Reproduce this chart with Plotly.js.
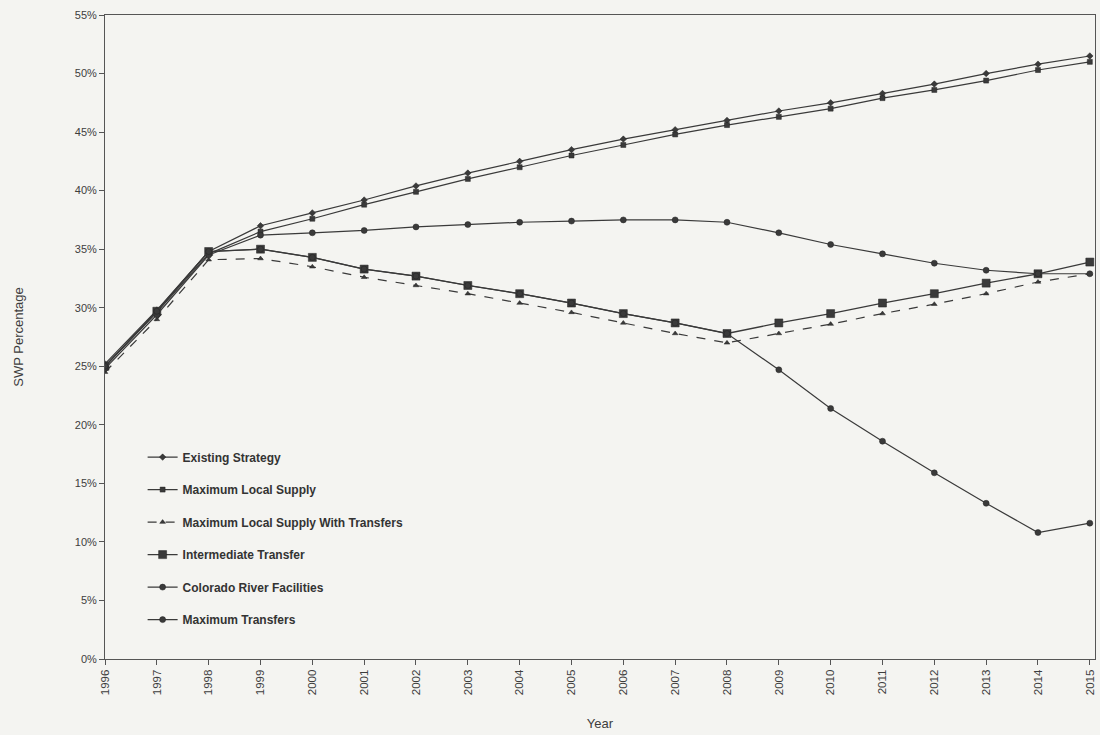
<!DOCTYPE html>
<html>
<head>
<meta charset="utf-8">
<script src="https://cdn.plot.ly/plotly-3.0.1.min.js"></script>
<style>html,body{margin:0;padding:0;background:#f4f4f1;}#chart{width:1100px;height:735px;}</style>
</head>
<body>
<div id="chart"></div>
<script>
const years = [1996,1997,1998,1999,2000,2001,2002,2003,2004,2005,2006,2007,2008,2009,2010,2011,2012,2013,2014,2015];
const existingStrategy = [25.2,29.8,34.8,37.0,38.1,39.2,40.4,41.5,42.5,43.5,44.4,45.2,46.0,46.8,47.5,48.3,49.1,50.0,50.8,51.5];
const maxLocalSupply = [25.0,29.6,34.6,36.5,37.6,38.8,39.9,41.0,42.0,43.0,43.9,44.8,45.6,46.3,47.0,47.9,48.6,49.4,50.3,51.0];
const maxLocalSupplyTransfers = [24.5,29.0,34.1,34.2,33.5,32.6,31.9,31.2,30.4,29.6,28.7,27.8,27.0,27.8,28.6,29.5,30.3,31.2,32.2,32.9];
const intermediateTransfer = [25.0,29.7,34.8,35.0,34.3,33.3,32.7,31.9,31.2,30.4,29.5,28.7,27.8,28.7,29.5,30.4,31.2,32.1,32.9,33.9];
const coloradoRiver = [24.8,29.4,34.5,36.2,36.4,36.6,36.9,37.1,37.3,37.4,37.5,37.5,37.3,36.4,35.4,34.6,33.8,33.2,32.9,32.9];
const maxTransfers = [25.0,29.7,34.8,35.0,34.3,33.3,32.7,31.9,31.2,30.4,29.5,28.7,27.8,24.7,21.4,18.6,15.9,13.3,10.8,11.6];
const seriesNames = ["Existing Strategy","Maximum Local Supply","Maximum Local Supply With Transfers","Intermediate Transfer","Colorado River Facilities","Maximum Transfers"];
const yTicks = [0,5,10,15,20,25,30,35,40,45,50,55];

const ink = '#3a3a3a';
function tr(name, y, sym, size, dash, width, group){
  return {x: years, y: y, name: name, type: 'scatter', mode: 'lines+markers',
    legendgroup: group,
    line: {color: ink, width: width, dash: dash},
    marker: {symbol: sym, size: size, color: ink, line: {color: '#222', width: 0.5}}};
}
const data = [
  tr(seriesNames[0], existingStrategy, 'diamond', 5, 'solid', 1.2, 'a'),
  tr(seriesNames[1], maxLocalSupply, 'square', 5, 'solid', 1.2, 'b'),
  tr(seriesNames[2], maxLocalSupplyTransfers, 'triangle-up', 5, 'dash', 1.2, 'c'),
  tr(seriesNames[3], intermediateTransfer, 'square', 8, 'solid', 1.3, 'd'),
  tr(seriesNames[4], coloradoRiver, 'circle', 6, 'solid', 1.2, 'e'),
  tr(seriesNames[5], maxTransfers, 'circle', 6, 'solid', 1.2, 'f')
];
const layout = {
  width: 1100, height: 735,
  paper_bgcolor: '#f4f4f1', plot_bgcolor: '#f4f4f1',
  margin: {l: 105, r: 5, t: 15, b: 76},
  font: {family: 'Liberation Sans, Arial, sans-serif', color: '#3d3d3d', size: 11},
  showlegend: true,
  legend: {x: 0.038, y: 0.336, xanchor: 'left', yanchor: 'top', bgcolor: 'rgba(0,0,0,0)',
    font: {family: 'Liberation Sans, Arial, sans-serif', size: 12, color: '#333', weight: 'bold'},
    tracegroupgap: 13.5, itemwidth: 30},
  xaxis: {
    type: 'linear', range: [1996, 2015.1], tickmode: 'array', tickvals: years,
    ticktext: years.map(String), tickangle: -90,
    showgrid: false, zeroline: false, showline: true, mirror: true,
    linecolor: '#555', linewidth: 1, ticks: 'outside', ticklen: 5, tickcolor: '#555',
    tickfont: {size: 11.5, color: '#3d3d3d'},
    title: {text: 'Year', font: {size: 13, color: '#3d3d3d'}, standoff: 24}
  },
  yaxis: {
    range: [0, 55], tickmode: 'array', tickvals: yTicks, ticktext: yTicks.map(v => v + '%'),
    showgrid: false, zeroline: false, showline: true, mirror: true,
    linecolor: '#555', linewidth: 1, ticks: 'outside', ticklen: 5, tickcolor: '#555',
    tickfont: {size: 11, color: '#3d3d3d'},
    title: {text: 'SWP Percentage', font: {size: 13, color: '#3d3d3d'}, standoff: 48}
  }
};
Plotly.newPlot('chart', data, layout, {displayModeBar: false, staticPlot: true});
</script>
</body>
</html>
